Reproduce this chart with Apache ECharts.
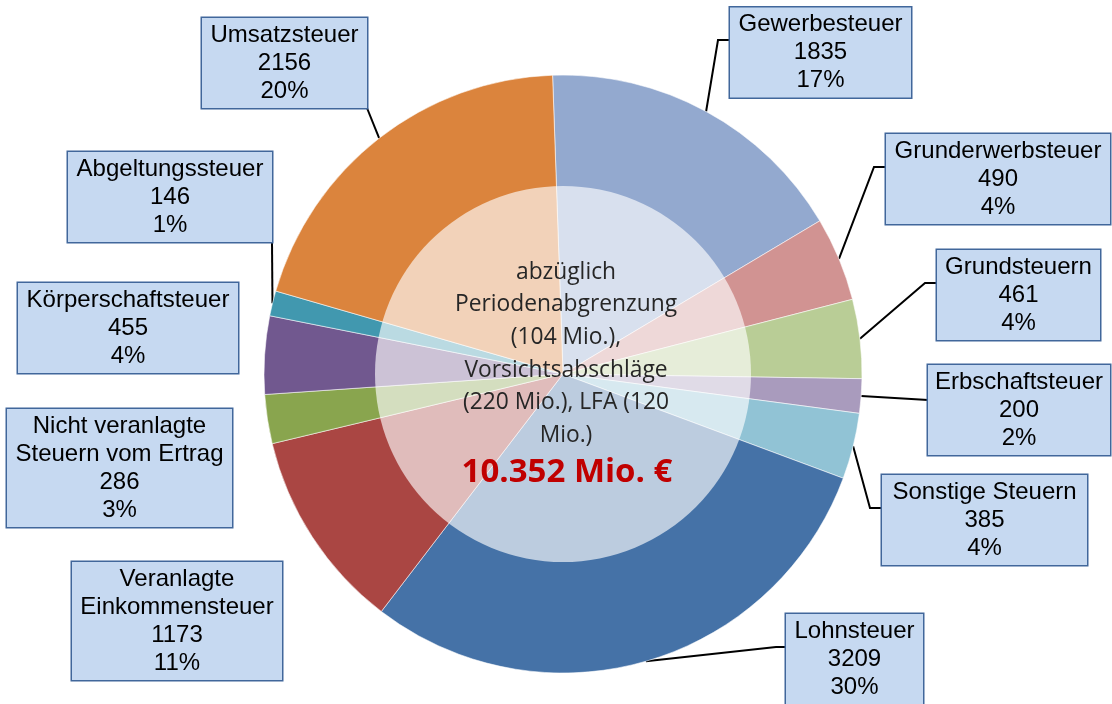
<!DOCTYPE html>
<html>
<head>
<meta charset="utf-8">
<script src="https://cdn.jsdelivr.net/npm/echarts@6/dist/echarts.min.js"></script>
<style>
html,body{margin:0;padding:0;background:#fff;}
#chart{width:1112px;height:704px;}
</style>
</head>
<body>
<div id="chart"></div>
<script>
// ---- data ----
const categories = ['Gewerbesteuer','Grunderwerbsteuer','Grundsteuern','Erbschaftsteuer','Sonstige Steuern','Lohnsteuer','Veranlagte\nEinkommensteuer','Nicht veranlagte\nSteuern vom Ertrag','Körperschaftsteuer','Abgeltungssteuer','Umsatzsteuer'];
const values = [1835, 490, 461, 200, 385, 3209, 1173, 286, 455, 146, 2156];
const centerLines = ['abzüglich','Periodenabgrenzung','(104 Mio.),','Vorsichtsabschläge','(220 Mio.), LFA (120','Mio.)'];
const totalLabel = '10.352 Mio. €';

// ---- styles / layout ----
const colors = ['#93A9CF','#D19392','#B9CD96','#A99BBD','#91C3D5','#4572A7','#AA4643','#89A54E','#71588F','#4198AF','#DB843D'];
const CENTER = [563, 374];
const RADIUS = 299;
const INNER_R = 188;
// label box centre x, centre y, box width
const boxes = [
  [820.5, 52.5, 181],
  [998, 179, 224],
  [1018.5, 295, 163],
  [1019, 410, 182],
  [984.5, 520, 205],
  [854.5, 659, 137],
  [177, 621, 210],
  [119.5, 468, 225],
  [128, 328, 220],
  [170, 197, 204],
  [284.5, 63, 165]
];
// leader line: [elbow, end] (elbow may be null); null = no line
const leaders = [
  [[718, 40], [730, 40]],
  [[874, 167], [886, 167]],
  [[925, 283], [937, 283]],
  [null, [928, 400]],
  [[870, 508], [882, 508]],
  [[776, 647], [786, 647]],
  null, null, null,
  [null, [272, 242]],
  [null, [367, 108]]
];

const chart = echarts.init(document.getElementById('chart'), null, {renderer: 'canvas'});
const data = categories.map((name, i) => ({
  name: name,
  value: values[i],
  itemStyle: {color: colors[i]},
  label: {width: boxes[i][2]},
  labelLine: {show: leaders[i] !== null}
}));

chart.setOption({
  animation: false,
  series: [{
    type: 'pie',
    center: CENTER,
    radius: [0, RADIUS],
    startAngle: 92,
    clockwise: true,
    avoidLabelOverlap: false,
    percentPrecision: 0,
    data: data,
    itemStyle: {borderColor: 'rgba(255,255,255,0.55)', borderWidth: 1},
    emphasis: {disabled: true},
    label: {
      show: true,
      position: 'outside',
      formatter: '{b}\n{c}\n{d}%',
      fontFamily: 'Liberation Sans, Arial, sans-serif',
      fontSize: 24,
      lineHeight: 28,
      color: '#000',
      align: 'center',
      backgroundColor: '#C6D9F1',
      borderColor: '#41679B',
      borderWidth: 1.5,
      padding: [3, 0],
      overflow: 'none'
    },
    labelLine: {
      length: 5,
      length2: 5,
      smooth: false,
      lineStyle: {color: '#000', width: 2}
    },
    labelLayout: function (params) {
      const i = params.dataIndex;
      const b = boxes[i];
      const res = {x: b[0], y: b[1], align: 'center', verticalAlign: 'middle'};
      const l = leaders[i];
      if (l && params.labelLinePoints) {
        const a = params.labelLinePoints[0];
        const pts = [[a[0], a[1]]];
        if (l[0]) pts.push([l[0][0], l[0][1]]);
        pts.push([l[1][0], l[1][1]]);
        res.labelLinePoints = pts;
      }
      return res;
    }
  }],
  graphic: [
    {
      type: 'circle',
      z: 100,
      shape: {cx: CENTER[0], cy: CENTER[1], r: INNER_R},
      style: {fill: 'rgba(255,255,255,0.64)'}
    },
    {
      type: 'text',
      z: 101,
      x: 566,
      y: 256,
      style: {
        text: centerLines.join('\n'),
        fill: '#262626',
        font: '22.8px "Open Sans", sans-serif',
        lineHeight: 32.6,
        textAlign: 'center',
        textVerticalAlign: 'top'
      }
    },
    {
      type: 'text',
      z: 101,
      x: 567,
      y: 473,
      style: {
        text: totalLabel,
        fill: '#C00000',
        font: 'bold 33px "Open Sans", sans-serif',
        textAlign: 'center',
        textVerticalAlign: 'middle'
      }
    }
  ]
});
</script>
</body>
</html>
